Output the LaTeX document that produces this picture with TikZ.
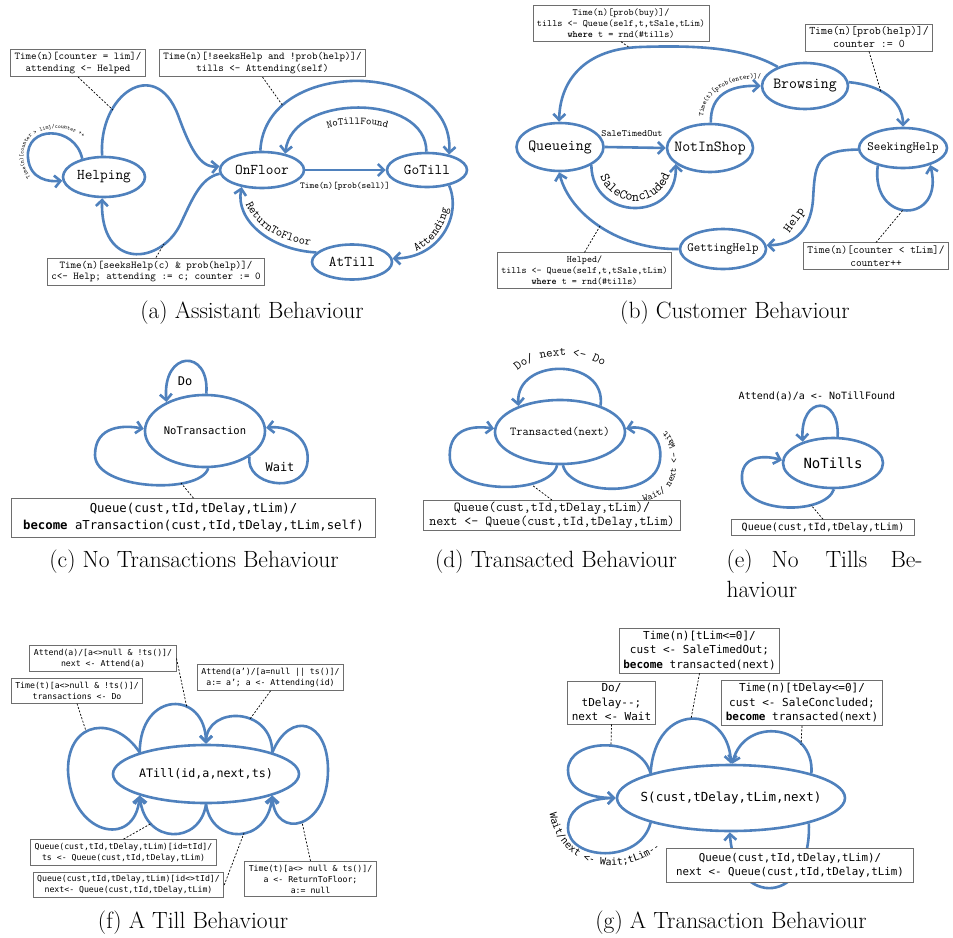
\documentclass[tikz,border=0pt]{standalone}
\usepackage{fontspec}
\usetikzlibrary{shapes.geometric,arrows.meta,decorations.text}
\newcommand\cour{\ttfamily}
\newfontfamily\cons{DejaVu Sans Mono}
\definecolor{eblue}{RGB}{79,129,189}
\definecolor{bgray}{RGB}{110,110,110}
\newcommand\fs[2]{\fontsize{#1}{#2}\selectfont}
\newcommand\zw[1]{\hbox to 0pt{\hss#1\hss}}
\newcommand\capf{\fontsize{23.5}{28}\selectfont}
\newcommand\tA{\ttfamily\fontsize{5.7}{7}\selectfont}
\newcommand\tB{\ttfamily\fontsize{10.5}{12}\selectfont}
\newcommand\tC{\ttfamily\fontsize{12}{13}\selectfont}
\newcommand\tD{\ttfamily\fontsize{13.7}{15}\selectfont}
\newcommand\tE{\ttfamily\fontsize{6.9}{8}\selectfont}
\newcommand\tF{\ttfamily\fontsize{12.6}{14}\selectfont}
\newcommand\tG{\ttfamily\fontsize{9.7}{11}\selectfont}
\newcommand\tH{\cons\fontsize{9.8}{11}\selectfont}
\tikzset{
  st/.style={ellipse, draw=eblue, line width=2.6pt, fill=white, inner sep=0pt},
  tr/.style={draw=eblue, line width=2.6pt, -{Straight Barb[length=6pt,width=12pt]}},
  bx/.style={draw=bgray, line width=0.8pt, fill=white, align=center, inner xsep=4pt, inner ysep=3pt},
  dsh/.style={draw=black, line width=0.7pt, dash pattern=on 2pt off 1.6pt},
  captxt/.style={font=\capf, anchor=base},
  txp/.style={decorate, decoration={text along path, text align=center, text={#1}}}
}
\begin{document}
\begin{tikzpicture}[x=1pt,y=-1pt]
\fill[white] (0,0) rectangle (953,937);
\useasboundingbox (0,0) rectangle (953,937);

% ================= (a) =================
\node[st, minimum width=82pt, minimum height=40pt, font=\cour\fs{14.9}{16}] (hp) at (104,177) {\zw{Helping}};
\node[st, minimum width=84pt, minimum height=36pt, font=\cour\fs{14.9}{16}] (of) at (262,170) {\zw{OnFloor}};
\node[st, minimum width=80pt, minimum height=34pt, font=\cour\fs{14.9}{16}] (gt) at (427,170) {\zw{GoTill}};
\node[st, minimum width=80pt, minimum height=35pt, font=\cour\fs{14.9}{16}] (at) at (352,262) {\zw{AtTill}};

\draw[tr] (of.east) -- (gt.west);
\node[font=\cour\fs{9}{10}] (lsell) at (345,186) {Time(n)[prob(sell)]};
\draw[tr] (of.95) .. controls (265,55) and (455,60) .. (gt.35);
\draw[tr] (gt.92) .. controls (427,93) and (292,93) .. (of.35);
\path[txp={|\tB|NoTillFound}] (315,137) .. controls (322,120) and (393,120) .. (400,137);
\draw[tr] (gt.-35) .. controls (462,215) and (440,258) .. (at.5);
\path[txp={|\tC|Attending}] (408,255) .. controls (430,248) and (448,228) .. (449,200);
\draw[tr] (at.165) .. controls (270,250) and (235,220) .. (of.220);
\path[txp={|\tC|ReturnToFloor}] (243,197) .. controls (252,225) and (278,243) .. (318,246);
\draw[tr] (hp.95) .. controls (98,95) and (155,55) .. (178,115) .. controls (190,148) and (200,168) .. (of.175);
\draw[tr] (of.185) .. controls (200,178) and (192,200) .. (180,225) .. controls (160,265) and (100,270) .. (hp.265);
\draw[tr] (hp.140) .. controls (75,125) and (25,125) .. (28,158) .. controls (30,180) and (50,182) .. (hp.185);
\path[txp={|\tA|Time(n)[counter > lim]/counter ++}] (38,184) .. controls (18,172) and (15,133) .. (50,129) .. controls (68,126) and (82,133) .. (89,146);

% ================= (b) =================
\node[st, minimum width=87pt, minimum height=48pt, font=\cour\fs{15.4}{17}] (qu) at (560,147) {\zw{Queueing}};
\node[st, minimum width=86pt, minimum height=48pt, font=\cour\fs{15.4}{17}] (ni) at (710,148) {\zw{NotInShop}};
\node[st, minimum width=86pt, minimum height=46pt, font=\cour\fs{15.4}{17}] (br) at (805,86) {\zw{Browsing}};
\node[st, minimum width=88pt, minimum height=40pt, font=\cour\fs{12.6}{14}] (sh) at (903,148) {\zw{SeekingHelp}};
\node[st, minimum width=86pt, minimum height=40pt, font=\cour\fs{12.6}{14}] (gh) at (723,249) {\zw{GettingHelp}};

\draw[tr] (qu.east) -- (ni.west);
\node[font=\cour\fs{9.7}{11}] (lsto) at (632,134) {SaleTimedOut};
\draw[tr] (qu.-30) .. controls (592,222) and (678,222) .. (ni.-155);
\path[txp={|\tD|SaleConcluded}] (597,160) .. controls (599,215) and (671,215) .. (673,158);
\draw[tr] (br.145) .. controls (745,48) and (700,45) .. (640,47) .. controls (585,49) and (560,80) .. (qu.92);
\draw[tr] (ni.88) .. controls (710,95) and (730,85) .. (br.180);
\path[txp={|\tE|Time(t)[prob(enter)]/}] (703,121) .. controls (702,92) and (728,78) .. (766,78);
\draw[tr] (br.5) .. controls (880,85) and (903,100) .. (sh.90);
\draw[tr] (sh.182) .. controls (815,150) and (815,165) .. (813,200) .. controls (810,235) and (790,245) .. (gh.5);
\node[font=\cour\fs{13}{14}, rotate=55] (lhelp) at (795,221) {Help};
\draw[tr] (gh.180) .. controls (620,250) and (570,215) .. (qu.268);
\draw[tr] (sh.215) .. controls (870,225) and (945,225) .. (sh.-32);

% ================= (c) =================
\node[st, minimum width=120pt, minimum height=72pt, font=\cons\fs{10.5}{12}] (nt) at (205,431) {\zw{NoTransaction}};
\draw[tr] (nt.88) .. controls (210,348) and (162,350) .. (nt.143);
\node[font=\cons\fs{12}{14}] (ldo) at (185,381) {Do};
\draw[tr] (nt.-85) .. controls (200,495) and (95,490) .. (95,455) .. controls (95,425) and (125,425) .. (nt.178);
\draw[tr] (nt.-30) .. controls (245,485) and (300,495) .. (307,465) .. controls (312,440) and (290,425) .. (nt.3);
\node[font=\cons\fs{12}{14}] (lwait) at (280,467) {Wait};

% ================= (d) =================
\node[st, minimum width=130pt, minimum height=64pt, font=\cour\fs{12.1}{13}] (td) at (560,432) {\zw{Transacted(next)}};
\draw[tr] (td.33) .. controls (607,357) and (515,357) .. (td.148);
\path[txp={|\tF|Do/ next <- Do}] (508,388) .. controls (513,347) and (607,345) .. (614,383);
\draw[tr] (td.-95) .. controls (550,495) and (455,495) .. (450,460) .. controls (447,430) and (470,425) .. (td.177);
\draw[tr] (td.-85) .. controls (570,495) and (655,500) .. (660,460) .. controls (663,435) and (645,425) .. (td.3);
\path[txp={|\tG|Wait/ next <- Wait}] (615,503) .. controls (660,505) and (677,490) .. (677,460) .. controls (677,435) and (660,420) .. (640,420);

% ================= (e) =================
\node[st, minimum width=100pt, minimum height=50pt, font=\cons\fs{14}{16}] (nti) at (833,463) {\zw{NoTills}};
\draw[tr] (nti.80) .. controls (840,395) and (800,395) .. (nti.145);
\node[font=\cons\fs{10}{12}] (le) at (817,396) {Attend(a)/a <- NoTillFound};
\draw[tr] (nti.-88) .. controls (825,515) and (745,515) .. (742,480) .. controls (740,455) and (765,455) .. (nti.177);

% ================= (f) =================
\node[st, minimum width=186pt, minimum height=58pt, font=\cons\fs{11.7}{14}] (ti) at (206,774) {\zw{ATill(id,a,next,ts)}};
\draw[tr] (ti.162) .. controls (140,690) and (205,690) .. (ti.90);
\draw[tr] (ti.18) .. controls (272,706) and (207,706) .. (ti.90);
\draw[tr] (ti.162) .. controls (115,715) and (68,720) .. (68,770) .. controls (70,835) and (135,850) .. (ti.198);
\draw[tr] (ti.18) .. controls (290,710) and (328,720) .. (328,770) .. controls (328,830) and (275,840) .. (ti.-18);
\draw[tr] (ti.270) .. controls (200,845) and (145,845) .. (ti.198);
\draw[tr] (ti.270) .. controls (212,845) and (267,845) .. (ti.-18);

% ================= (g) =================
\node[st, minimum width=228pt, minimum height=66pt, font=\cons\fs{12.5}{15}] (sg) at (731,798) {\zw{S(cust,tDelay,tLim,next)}};
\draw[tr] (sg.163) .. controls (640,735) and (568,738) .. (568,770) .. controls (568,795) and (600,798) .. (sg.180);
\draw[tr] (sg.197) .. controls (640,865) and (568,860) .. (568,828) .. controls (568,802) and (600,798) .. (sg.180);
\path[txp={|\tH|Wait/next <- Wait;tLim--}] (549,797) .. controls (546,845) and (585,872) .. (625,864) .. controls (645,860) and (660,850) .. (672,836);
\draw[tr] (sg.163) .. controls (655,700) and (728,705) .. (sg.90);
\draw[tr] (sg.17) .. controls (815,725) and (745,715) .. (sg.88);
\draw[tr] (sg.-18) .. controls (812,905) and (735,910) .. (sg.268);

% ================= boxes =================
\node[bx, font=\cour\fs{10.5}{11.5}] (b1) at (78,63) {Time(n)[counter = lim]/\\attending <- Helped};
\node[bx, font=\cour\fs{10.5}{11.5}] (b2) at (262.5,63) {Time(n)[!seeksHelp and !prob(help)]/\\tills <- Attending(self)};
\node[bx, font=\cour\fs{10.5}{11.5}] (b3) at (156,271.5) {Time(n)[seeksHelp(c) \& prob(help)]/\\c<- Help; attending := c; counter := 0};

\node[bx, font=\cour\fs{9.7}{11}] (bb1) at (621,23.5) {Time(n)[prob(buy)]/\\tills <- Queue(self,t,tSale,tLim)\\\textbf{where} t = rnd(\#tills)};
\node[bx, font=\cour\fs{11.6}{13}] (bb2) at (869,37.5) {Time(n)[prob(help)]/\\counter := 0};
\node[bx, font=\cour\fs{11.1}{12.5}] (bb3) at (876,256) {Time(n)[counter < tLim]/\\counter++};
\node[bx, font=\cour\fs{9.6}{11}] (bb4) at (584.5,270.5) {Helped/\\tills <- Queue(self,t,tSale,tLim)\\\textbf{where} t = rnd(\#tills)};

\node[bx, font=\cons\fs{12.3}{17}, inner xsep=12pt, inner ysep=5pt] (cbox) at (193.5,518) {Queue(cust,tId,tDelay,tLim)/\\\textbf{become} aTransaction(cust,tId,tDelay,tLim,self)};

\node[bx, font=\cour\fs{13.6}{12.5}, inner xsep=6pt, inner ysep=2pt] (dbox) at (552,515.5) {Queue(cust,tId,tDelay,tLim)/\\next <- Queue(cust,tId,tDelay,tLim)};

\node[bx, font=\cons\fs{10}{12}, inner xsep=10pt] (ebox) at (823,527.5) {Queue(cust,tId,tDelay,tLim)};

\node[bx, font=\cons\fs{8.2}{11}, inner ysep=3.5pt] (f1) at (103,658.5) {Attend(a)/[a<>null \& !ts()]/\\next <- Attend(a)};
\node[bx, font=\cons\fs{8.2}{11}, inner ysep=3.5pt] (f2) at (77,691) {Time(t)[a<>null \& !ts()]/\\transactions <- Do};
\node[bx, font=\cons\fs{8.2}{11}, inner ysep=3.5pt] (f3) at (270.5,677.5) {Attend(a’)/[a=null || ts()]/\\a:= a’; a <- Attending(id)};
\node[bx, font=\cons\fs{8.2}{11}, inner ysep=3.5pt] (f4) at (123.5,852.5) {Queue(cust,tId,tDelay,tLim)[id=tId]/\\ts <- Queue(cust,tId,tDelay,tLim)};
\node[bx, font=\cons\fs{8.2}{11}, inner ysep=3pt] (f5) at (128.5,885) {Queue(cust,tId,tDelay,tLim)[id<>tId]/\\next<- Queue(cust,tId,tDelay,tLim)};
\node[bx, font=\cons\fs{8.2}{11}, inner ysep=3.5pt] (f6) at (310.5,879) {Time(t)[a<> null \& ts()]/\\a <- ReturnToFloor;\\a:= null};

\node[bx, font=\cons\fs{11}{14.5}] (g1) at (699.5,650.5) {Time(n)[tLim<=0]/\\cust <- SaleTimedOut;\\\textbf{become} transacted(next)};
\node[bx, font=\cons\fs{11}{14.5}] (g2) at (611.5,702.5) {Do/\\tDelay-{}-;\\next <- Wait};
\node[bx, font=\cons\fs{11}{14.5}] (g3) at (802,703) {Time(n)[tDelay<=0]/\\cust <- SaleConcluded;\\\textbf{become} transacted(next)};
\node[bx, font=\cons\fs{10.8}{13.5}, inner xsep=10pt, inner ysep=5pt] (g4) at (790,865.5) {Queue(cust,tId,tDelay,tLim)/\\next <- Queue(cust,tId,tDelay,tLim)};

% ================= dashed connectors =================
\coordinate (a1) at (113,110); \draw[dsh] (b1.south) -- (a1);
\coordinate (a2) at (283,106); \draw[dsh] (b2.south) -- (a2);
\coordinate (a3) at (164,244); \draw[dsh] (b3.north) -- (a3);
\coordinate (bc1) at (630,48); \draw[dsh] (bb1.south) -- (bc1);
\coordinate (bc2) at (881,92); \draw[dsh] (bb2.south) -- (bc2);
\coordinate (bc3) at (903,210); \draw[dsh] (bb3.north) -- (bc3);
\coordinate (bc4) at (600,226); \draw[dsh] (bb4.north) -- (bc4);
\coordinate (cc) at (181,483); \draw[dsh] (cbox.north) -- (cc);
\coordinate (dc) at (532,485); \draw[dsh] (dbox.north) -- (dc);
\coordinate (ec) at (811,505); \draw[dsh] (ebox.north) -- (ec);
\coordinate (fc1) at (187,708); \draw[dsh] (f1.east) -- (fc1);
\coordinate (fc2) at (86,731); \draw[dsh] (f2.south) -- (fc2);
\coordinate (fc3) at (250,719); \draw[dsh] (f3.south) -- (fc3);
\coordinate (fc4) at (152,823); \draw[dsh] (f4.north) -- (fc4);
\coordinate (fc5) at (244,833); \draw[dsh] (f5.east) -- (fc5);
\coordinate (fc6) at (302,822); \draw[dsh] (f6.north) -- (fc6);
\coordinate (gc1) at (691,719); \draw[dsh] (g1.south) -- (gc1);
\coordinate (gc2) at (611,745); \draw[dsh] (g2.south) -- (gc2);
\coordinate (gc3) at (801,745); \draw[dsh] (g3.south) -- (gc3);

% ================= captions =================
\node[captxt] (ca) at (252,318) {(a) Assistant Behaviour};
\node[captxt] (cb) at (735,318) {(b) Customer Behaviour};
\node[captxt] (cc2) at (194,567) {(c) No Transactions Behaviour};
\node[captxt] (cd) at (556,567) {(d) Transacted Behaviour};
\node[captxt, anchor=base west] (ce1) at (723,567) {(e)};
\node[captxt, anchor=base west] (ce2) at (768,567) {No};
\node[captxt, anchor=base west] (ce3) at (822,567) {Tills};
\node[captxt, anchor=base west] (ce4) at (887,567) {Be-};
\node[captxt, anchor=base west] (ce5) at (723,597) {haviour};
\node[captxt] (cf) at (193,928) {(f) A Till Behaviour};
\node[captxt] (cg) at (731,928) {(g) A Transaction Behaviour};
\end{tikzpicture}
\end{document}
